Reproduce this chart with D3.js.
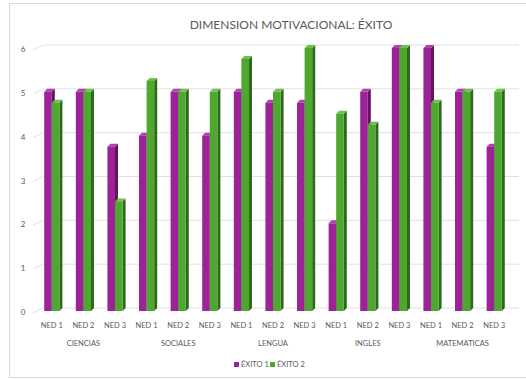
<!DOCTYPE html>
<html lang="es">
  <head>
    <meta charset="UTF-8">
    <title>Dimension motivacional: Éxito</title>
    <style>
      body { margin: 0; background: #fff; }
      svg { display: block; font-family: Lato, "Open Sans", sans-serif; }
    </style>
    <script src="https://d3js.org/d3.v7.min.js"></script>
  </head>
  <body>
    <script>
      var subjects = ["CIENCIAS", "SOCIALES", "LENGUA", "INGLES", "MATEMATICAS"];
      var levels = ["NED 1", "NED 2", "NED 3"];
      var seriesNames = ["ÉXITO 1", "ÉXITO 2"];
      var exito1 = [5, 5, 3.75, 4, 5, 4, 5, 4.75, 4.75, 2, 5, 6, 6, 5, 3.75];
      var exito2 = [4.75, 5, 2.5, 5.25, 5, 5, 5.75, 5, 6, 4.5, 4.25, 6, 4.75, 5, 5];
      var yTicks = [0, 1, 2, 3, 4, 5, 6];

      var width = 526, height = 379;
      var colors = {
        "ÉXITO 1": { front: "#9c2397", side: "#66135f", top: "#b43fae" },
        "ÉXITO 2": { front: "#4ea72e", side: "#2b6a18", top: "#6cc24a" }
      };
      var dx = 3, dy = -3;   // depth of the 3D bars

      // one key per subject/level pair
      var rows = [];
      subjects.forEach(function (s, i) {
        levels.forEach(function (l, j) {
          var k = i * levels.length + j;
          rows.push({ key: s + "|" + l, subject: s, level: l,
                      values: [exito1[k], exito2[k]] });
        });
      });

      var svg = d3.select("body").append("svg")
        .attr("width", width)
        .attr("height", height);

      // chart frame
      svg.append("rect")
        .attr("x", 9.5).attr("y", 3.5)
        .attr("width", 530).attr("height", 374)
        .attr("fill", "none")
        .attr("stroke", "#d9d9d9");

      var x0 = d3.scaleBand()
        .domain(rows.map(function (d) { return d.key; }))
        .range([36, 510])
        .paddingInner(0.52)
        .paddingOuter(0.26);
      var x1 = d3.scaleBand()
        .domain(seriesNames)
        .range([0, x0.bandwidth()]);
      var y = d3.scaleLinear().domain([0, 6]).range([311, 48]);

      // title
      svg.append("text")
        .attr("x", 291).attr("y", 29)
        .attr("text-anchor", "middle")
        .attr("fill", "#595959")
        .attr("font-size", 12)
        .text("DIMENSION MOTIVACIONAL: ÉXITO");

      // gridlines on the back wall, with the short floor edge on the left
      var grid = svg.append("g");
      yTicks.forEach(function (t) {
        var yy = y(t) - 3;
        grid.append("path")
          .attr("d", "M33," + (yy + 5) + "L43," + yy + "H519")
          .attr("fill", "none")
          .attr("stroke", "#e0e0e0")
          .attr("stroke-width", 1);
      });

      // y axis labels
      svg.append("g").selectAll("text")
        .data(yTicks)
        .join("text")
        .attr("x", 23)
        .attr("y", function (d) { return y(d) + 4; })
        .attr("text-anchor", "middle")
        .attr("fill", "#595959")
        .attr("font-size", 8)
        .text(function (d) { return d; });

      // bars: draw series in order so the green front covers the purple side
      var groups = svg.append("g").selectAll("g")
        .data(rows)
        .join("g")
        .attr("transform", function (d) { return "translate(" + x0(d.key) + ",0)"; });

      seriesNames.forEach(function (name, si) {
        var c = colors[name];
        var bw = x1.bandwidth();
        groups.each(function (d) {
          var g = d3.select(this);
          var bx = x1(name), top = y(d.values[si]), bot = y(0);
          g.append("path")   // side face
            .attr("d", "M" + (bx + bw) + "," + top + "l" + dx + "," + dy +
                       "V" + (bot + dy) + "l" + (-dx) + "," + (-dy) + "Z")
            .attr("fill", c.side);
          g.append("path")   // top face
            .attr("d", "M" + bx + "," + top + "l" + dx + "," + dy +
                       "h" + bw + "l" + (-dx) + "," + (-dy) + "Z")
            .attr("fill", c.top);
          g.append("rect")   // front face
            .attr("x", bx)
            .attr("y", top)
            .attr("width", bw)
            .attr("height", bot - top)
            .attr("fill", c.front);
        });
      });

      // level labels
      svg.append("g").selectAll("text")
        .data(rows)
        .join("text")
        .attr("x", function (d) { return x0(d.key) + x0.bandwidth() / 2; })
        .attr("y", 328)
        .attr("text-anchor", "middle")
        .attr("fill", "#595959")
        .attr("font-size", 7.5)
        .text(function (d) { return d.level; });

      // subject labels, centred under their three levels
      svg.append("g").selectAll("text")
        .data(subjects)
        .join("text")
        .attr("x", function (s) {
          var a = x0(s + "|" + levels[0]), b = x0(s + "|" + levels[2]) + x0.bandwidth();
          return (a + b) / 2;
        })
        .attr("y", 346)
        .attr("text-anchor", "middle")
        .attr("fill", "#595959")
        .attr("font-size", 7.5)
        .text(function (s) { return s; });

      // legend
      var legend = svg.append("g").selectAll("g")
        .data(seriesNames)
        .join("g")
        .attr("transform", function (d, i) { return "translate(" + (234 + i * 36) + ",365)"; });
      legend.append("rect")
        .attr("x", 0).attr("y", -3)
        .attr("width", 5).attr("height", 5)
        .attr("fill", function (d) { return colors[d].front; });
      legend.append("text")
        .attr("x", 7).attr("y", 2)
        .attr("fill", "#595959")
        .attr("font-size", 7.5)
        .text(function (d) { return d; });
    </script>
  </body>
</html>
